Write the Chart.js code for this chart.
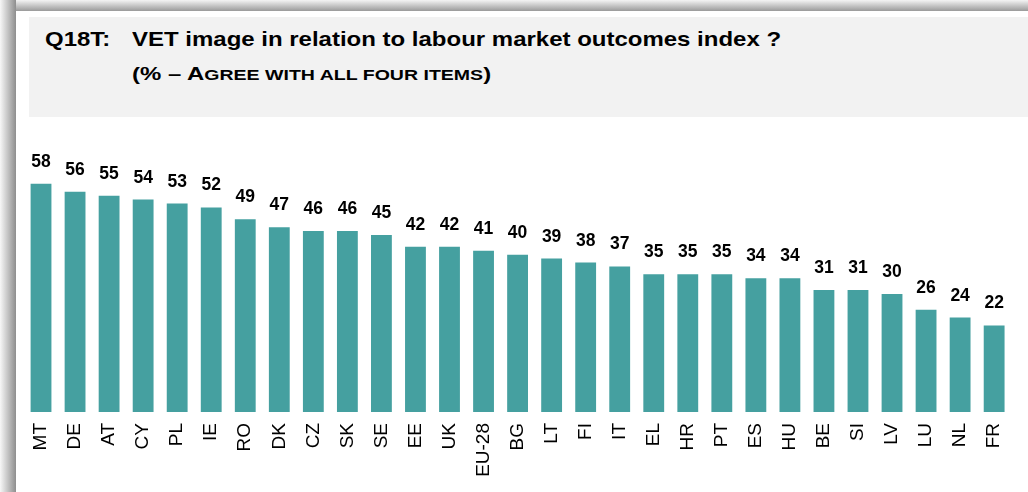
<!DOCTYPE html>
<html>
<head>
<meta charset="utf-8">
<script src="https://cdn.jsdelivr.net/npm/chart.js@4.4.0/dist/chart.umd.min.js"></script>
<style>
  html, body { margin: 0; overflow: hidden; }
  body { width: 1028px; height: 492px; position: relative; background: #fff; font-family: "Liberation Sans", Arial, sans-serif; }
  .shadow-top { position: absolute; left: 0; top: 0; width: 1028px; height: 11px; background: linear-gradient(to bottom, #f4f4f4, #9a9a9a); }
  .shadow-left { position: absolute; left: 0; top: 0; width: 16px; height: 492px; background: linear-gradient(to right, #f7f7f7, #8e8e8e); }
  .card { position: absolute; left: 16px; top: 11px; width: 1012px; height: 481px; background: #fff; }
  .band { position: absolute; left: 29px; top: 17px; width: 999px; height: 100px; background: #f2f2f2; }
  .t1, .t2 { position: absolute; font-weight: bold; color: #000; white-space: nowrap; transform-origin: left top; }
  .t1 { top: 27px; font-size: 20.5px; transform: scaleX(1.17); }
  .t2 { top: 63px; left: 132px; font-size: 19px; transform: scaleX(1.26); }
  .sc { font-size: 15.5px; }
  #wrap { position: absolute; left: 16px; top: 120px; width: 1012px; height: 372px; }
</style>
</head>
<body>
<div class="shadow-top"></div>
<div class="shadow-left"></div>
<div class="card"></div>
<div class="band"></div>
<div class="t1" style="left:45px">Q18T:</div>
<div class="t1" style="left:132px">VET image in relation to labour market outcomes index ?</div>
<div class="t2">(% – A<span class="sc">GREE WITH ALL FOUR ITEMS</span>)</div>
<div id="wrap"><canvas id="bar-chart"></canvas></div>
<script>
const countries = ["MT", "DE", "AT", "CY", "PL", "IE", "RO", "DK", "CZ", "SK", "SE", "EE", "UK", "EU-28", "BG",
  "LT", "FI", "IT", "EL", "HR", "PT", "ES", "HU", "BE", "SI", "LV", "LU", "NL", "FR"];
const agreeAll = [58, 56, 55, 54, 53, 52, 49, 47, 46, 46, 45, 42, 42, 41, 40,
  39, 38, 37, 35, 35, 35, 34, 34, 31, 31, 30, 26, 24, 22];

// value labels above each bar
const valueLabels = {
  id: "valueLabels",
  afterDatasetsDraw(chart) {
    const ctx = chart.ctx;
    const meta = chart.getDatasetMeta(0);
    ctx.save();
    ctx.font = "bold 17.5px 'Liberation Sans', Arial, sans-serif";
    ctx.fillStyle = "#000";
    ctx.textAlign = "center";
    ctx.textBaseline = "alphabetic";
    meta.data.forEach((bar, i) => {
      ctx.fillText(agreeAll[i], bar.x, bar.y - 17);
    });
    ctx.restore();
  }
};

new Chart(document.getElementById("bar-chart"), {
  type: "bar",
  data: {
    labels: countries,
    datasets: [{
      data: agreeAll,
      backgroundColor: "#45a0a0",
      borderWidth: 0,
      barPercentage: 0.9,
      categoryPercentage: 0.68
    }]
  },
  options: {
    responsive: true,
    maintainAspectRatio: false,
    animation: false,
    layout: { padding: { top: 56, left: 8, right: 3, bottom: 0 } },
    plugins: { legend: { display: false }, tooltip: { enabled: false } },
    scales: {
      x: {
        grid: { display: false, drawTicks: false },
        border: { display: false },
        ticks: {
          color: "#000",
          font: { family: "'Liberation Sans', Arial, sans-serif", size: 19 },
          minRotation: 90,
          maxRotation: 90,
          padding: 11,
          autoSkip: false
        },
        afterFit(scale) { scale.height = 80; }
      },
      y: { display: false, min: 0, max: 60 }
    }
  },
  plugins: [valueLabels]
});
</script>
</body>
</html>
